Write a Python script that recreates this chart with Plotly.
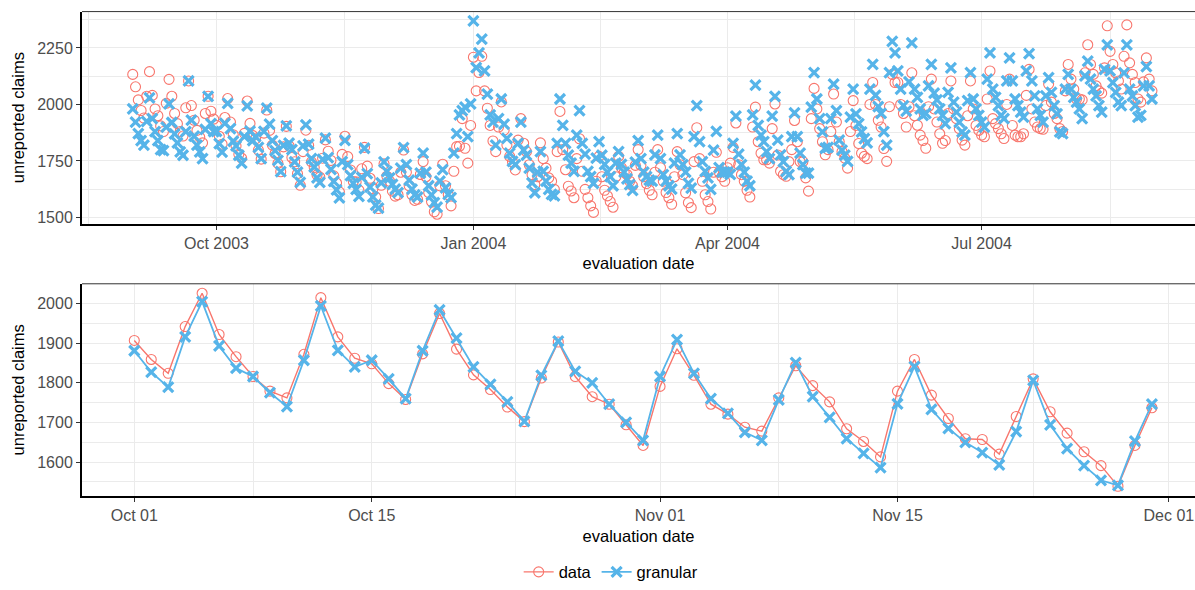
import pandas as pd
import plotly.graph_objects as go

RED = "#F8766D"
BLUE = "#56B4E9"
FONT = "Liberation Sans, Arial, sans-serif"

# ---- daily values, one list per month ----
data_sep_2003 = [2133, 2078, 2020, 1973, 1940, 2036, 2145,
                 2040, 1980, 1950, 1905, 1880, 2005, 2111,
                 2036, 1960, 1915, 1880, 1860, 1985, 2104,
                 1995, 1930, 1885, 1855, 1830, 1960, 2036,
                 1970, 1935]
gran_sep_2003 = [1980, 1922, 1871, 1840, 1820, 1925, 2029,
                 1937, 1880, 1840, 1800, 1795, 1900, 2002,
                 1920, 1870, 1830, 1790, 1775, 1880, 2104,
                 1930, 1860, 1820, 1790, 1760, 1890, 2036,
                 1915, 1880]

data_oct_2003 = [1907, 1859, 1824, 1942, 2026, 1922, 1866, 1816, 1779, 1762,
                 1872, 2015, 1916, 1862, 1848, 1798, 1758, 1873, 1975, 1885,
                 1820, 1783, 1739, 1702, 1812, 1903, 1816, 1765, 1746, 1694, 1642]
gran_oct_2003 = [1881, 1827, 1789, 1916, 2005, 1893, 1837, 1816, 1775, 1740,
                 1857, 1994, 1882, 1840, 1857, 1810, 1760, 1881, 1984, 1913,
                 1840, 1796, 1752, 1703, 1819, 1905, 1829, 1800, 1746, 1700, 1655]

data_nov_2003 = [1791, 1886, 1819, 1746, 1721, 1688, 1678, 1762, 1843, 1793,
                 1752, 1684, 1652, 1613, 1779, 1859, 1769, 1710, 1659, 1657,
                 1620, 1715, 1810, 1727, 1673, 1626, 1591, 1539, 1642, 1737]
gran_nov_2003 = [1816, 1909, 1824, 1760, 1723, 1675, 1655, 1757, 1851, 1765,
                 1713, 1659, 1622, 1586, 1747, 1841, 1733, 1685, 1650, 1624,
                 1593, 1677, 1806, 1694, 1634, 1591, 1554, 1541, 1653, 1746]

data_dec_2003 = [1682, 1660, 1616, 1594, 1600, 1700, 1798,
                 1700, 1640, 1600, 1575, 1580, 1690, 1747,
                 1680, 1610, 1570, 1525, 1514, 1640, 1735,
                 1640, 1600, 1551, 1704, 1813, 1815, 1937,
                 1806, 1740, 1907]
gran_dec_2003 = [1704, 1675, 1646, 1625, 1610, 1718, 1809,
                 1733, 1665, 1625, 1600, 1590, 1696, 1784,
                 1700, 1640, 1600, 1565, 1545, 1660, 1711,
                 1631, 1602, 1587, 1784, 1871, 1954, 1973,
                 1988, 1857, 2002]

data_jan_2004 = [2209, 2060, 2141, 2213,
                 2060, 1983, 1907, 1838, 1791, 1900, 2011,
                 1886, 1820, 1770, 1745, 1710, 1842, 1937,
                 1828, 1791, 1733, 1689, 1645, 1680, 1830,
                 1760, 1718, 1675, 1660, 1624, 1791]
gran_jan_2004 = [2370, 2163, 2228, 2289,
                 2148, 2046, 1954, 1922, 1820, 1937, 2024,
                 1913, 1850, 1784, 1748, 1733, 1828, 1922,
                 1798, 1776, 1718, 1653, 1609, 1700, 1791,
                 1704, 1660, 1624, 1602, 1595, 1828]

data_feb_2004 = [1969,
                 1800, 1711, 1638, 1617, 1587, 1760, 1848,
                 1704, 1624, 1587, 1551, 1522, 1660, 1770,
                 1680, 1620, 1595, 1570, 1545, 1680, 1770,
                 1720, 1700, 1690, 1660, 1640, 1730, 1800]
gran_feb_2004 = [2024,
                 1907, 1828, 1776, 1740, 1704, 1864, 1973,
                 1828, 1780, 1704, 1680, 1650, 1762, 1835,
                 1775, 1735, 1700, 1680, 1640, 1740, 1791,
                 1735, 1700, 1670, 1645, 1620, 1745, 1840]

data_mar_2004 = [1730, 1680, 1650, 1620, 1600, 1700, 1800,
                 1720, 1660, 1610, 1587, 1558, 1680, 1791,
                 1733, 1689, 1609, 1565, 1543, 1747, 1897,
                 1760, 1660, 1600, 1570, 1537, 1700, 1788,
                 1700, 1680, 1660]
gran_mar_2004 = [1760, 1700, 1680, 1665, 1660, 1777, 1864,
                 1760, 1689, 1660, 1640, 1625, 1740, 1871,
                 1777, 1733, 1700, 1650, 1630, 1857, 1995,
                 1835, 1747, 1704, 1675, 1624, 1798, 1881,
                 1720, 1700, 1700]

data_apr_2004 = [1720, 1740, 1810, 1918,
                 1733, 1689, 1660, 1620, 1590, 1900, 1988,
                 1835, 1784, 1755, 1755, 1740, 1893, 2002,
                 1776, 1704, 1689, 1682, 1747, 1800, 1929,
                 1835, 1747, 1747, 1675, 1616]
gran_apr_2004 = [1700, 1690, 1828, 1948,
                 1780, 1733, 1700, 1660, 1640, 1954, 2085,
                 1907, 1864, 1835, 1791, 1760, 1948, 2036,
                 1842, 1777, 1747, 1704, 1689, 1857, 1963,
                 1857, 1784, 1733, 1696, 1696]

data_may_2004 = [1937, 2071,
                 1980, 1893, 1835, 1777, 1800, 1880, 2046,
                 1922, 1835, 1791, 1762, 1718, 1880, 2017,
                 1907, 1827, 1784, 1770, 1760, 2000, 2097,
                 2000, 1930, 1900, 1805, 1748, 1990, 2133,
                 2097]
gran_may_2004 = [1988, 2141,
                 2024, 1937, 1878, 1806, 1810, 1937, 2090,
                 1973, 1842, 1798, 1776, 1748, 1944, 2068,
                 1958, 1915, 1878, 1849, 1830, 2068, 2177,
                 2040, 1990, 1960, 1880, 1820, 2141, 2279,
                 2228]

data_jun_2004 = [2097, 2000, 1960, 1900, 1990, 2140,
                 1950, 1908, 1864, 1840, 1806, 1990, 2112,
                 1980, 1922, 1870, 1828, 1840, 1960, 2104,
                 1980, 1937, 1893, 1842, 1820, 1950, 2104,
                 1980, 1907, 1885]
gran_jun_2004 = [2148, 2068, 1995, 1970, 2100, 2272,
                 2068, 2031, 1980, 1951, 1960, 2082, 2177,
                 2050, 2020, 1980, 1951, 1915, 2053, 2162,
                 2010, 1966, 1922, 1878, 1864, 2017, 2141,
                 2024, 1980, 1951]

data_jul_2004 = [1864, 1857, 2024, 2148,
                 1937, 1915, 1893, 1870, 1849, 2000, 2112,
                 1907, 1864, 1857, 1857, 1870, 2040, 2155,
                 1980, 1922, 1900, 1893, 1890, 1995, 2090,
                 2010, 1960, 1937, 1893, 1880, 2060]
gran_jul_2004 = [1922, 1900, 2112, 2228,
                 2068, 2031, 1995, 1951, 1937, 2104, 2206,
                 2104, 2024, 1995, 1966, 1944, 2148, 2225,
                 2104, 2038, 1980, 1951, 1922, 2038, 2119,
                 2053, 1995, 1958, 1878, 1871, 2068]

data_aug_2004 = [2177,
                 2112, 2068, 2024, 2024, 2020, 2140, 2264,
                 2177, 2133, 2082, 2060, 2050, 2162, 2348,
                 2235, 2177, 2140, 2104, 2068, 2213, 2352,
                 2184, 2133, 2097, 2024, 2010, 2100, 2206,
                 2112, 2060]
gran_aug_2004 = [2133,
                 2068, 2031, 2010, 1980, 1937, 2126, 2192,
                 2112, 2068, 2038, 1995, 1966, 2155, 2264,
                 2148, 2097, 2053, 2010, 1995, 2140, 2264,
                 2068, 2038, 1995, 1944, 1951, 2082, 2167,
                 2082, 2024]

# ---- ticks ----
top_tick_dates = ["2003-10-01", "2004-01-01", "2004-04-01", "2004-07-01"]
top_tick_labels = ["Oct 2003", "Jan 2004", "Apr 2004", "Jul 2004"]
top_minor_dates = ["2003-08-16", "2003-11-16", "2004-02-15 12:00", "2004-05-16 12:00", "2004-08-16"]
bottom_tick_dates = ["2003-10-01", "2003-10-15", "2003-11-01", "2003-11-15", "2003-12-01"]
bottom_tick_labels = ["Oct 01", "Oct 15", "Nov 01", "Nov 15", "Dec 01"]
bottom_minor_dates = ["2003-10-08", "2003-10-23 12:00", "2003-11-08", "2003-11-23"]
top_y_ticks = [1500, 1750, 2000, 2250]
top_y_minor = [1625, 1875, 2125, 2375]
bottom_y_ticks = [1600, 1700, 1800, 1900, 2000]
bottom_y_minor = [1550, 1650, 1750, 1850, 1950]

data_all = (data_sep_2003 + data_oct_2003 + data_nov_2003 + data_dec_2003 +
            data_jan_2004 + data_feb_2004 + data_mar_2004 + data_apr_2004 +
            data_may_2004 + data_jun_2004 + data_jul_2004 + data_aug_2004)
gran_all = (gran_sep_2003 + gran_oct_2003 + gran_nov_2003 + gran_dec_2003 +
            gran_jan_2004 + gran_feb_2004 + gran_mar_2004 + gran_apr_2004 +
            gran_may_2004 + gran_jun_2004 + gran_jul_2004 + gran_aug_2004)
dates_all = pd.date_range("2003-09-01", periods=len(data_all), freq="D")

data_zoom = data_oct_2003 + data_nov_2003
gran_zoom = gran_oct_2003 + gran_nov_2003
dates_zoom = pd.date_range("2003-10-01", periods=len(data_zoom), freq="D")

fig = go.Figure()

circle = dict(symbol="circle-open", size=10, color=RED, line=dict(width=1.1, color=RED))
cross = dict(symbol="x-thin", size=10, color=BLUE, line=dict(width=3.2, color=BLUE))

fig.add_trace(go.Scatter(x=dates_all, y=data_all, mode="markers", marker=circle,
                         name="data", legendgroup="data", showlegend=False,
                         xaxis="x", yaxis="y"))
fig.add_trace(go.Scatter(x=dates_all, y=gran_all, mode="markers", marker=cross,
                         name="granular", legendgroup="granular", showlegend=False,
                         xaxis="x", yaxis="y"))
fig.add_trace(go.Scatter(x=dates_zoom, y=data_zoom, mode="lines+markers", marker=circle,
                         line=dict(color=RED, width=1.4),
                         name="data", legendgroup="data", xaxis="x2", yaxis="y2"))
fig.add_trace(go.Scatter(x=dates_zoom, y=gran_zoom, mode="lines+markers", marker=cross,
                         line=dict(color=BLUE, width=1.8),
                         name="granular", legendgroup="granular", xaxis="x2", yaxis="y2"))

H = 590.0
grid = "#EBEBEB"
tickfont = dict(family=FONT, size=16, color="#4D4D4D")
titlefont = dict(family=FONT, size=16.5, color="#000000")

def xaxis_cfg(rng, tv, tt, minor, anchor):
    return dict(range=rng, domain=[0, 1], anchor=anchor, type="date",
                tickmode="array", tickvals=tv, ticktext=tt,
                showline=True, linecolor="#000000", linewidth=2, mirror=False,
                ticks="outside", ticklen=4, tickcolor="#333333", tickwidth=1,
                showgrid=True, gridcolor=grid, gridwidth=1.2, zeroline=False,
                minor=dict(tickmode="array", tickvals=minor, showgrid=True,
                           gridcolor=grid, gridwidth=0.7, ticks=""),
                tickfont=tickfont,
                title=dict(text="evaluation date", font=titlefont, standoff=7))

def yaxis_cfg(rng, dom, tv, minor, anchor):
    return dict(range=rng, domain=dom, anchor=anchor,
                tickmode="array", tickvals=tv, ticktext=[str(v) for v in tv],
                showline=True, linecolor="#000000", linewidth=2, mirror=False,
                ticks="outside", ticklen=4, tickcolor="#333333", tickwidth=1,
                showgrid=True, gridcolor=grid, gridwidth=1.2, zeroline=False,
                minor=dict(tickmode="array", tickvals=minor, showgrid=True,
                           gridcolor=grid, gridwidth=0.7, ticks=""),
                tickfont=tickfont,
                title=dict(text="unreported claims", font=titlefont, standoff=8))

fig.update_layout(
    width=1195, height=590,
    margin=dict(l=82, r=0, t=0, b=0),
    paper_bgcolor="white", plot_bgcolor="white",
    font=dict(family=FONT, size=16, color="#000000"),
    xaxis=xaxis_cfg(["2003-08-13 20:00", "2004-09-15 10:00"], top_tick_dates, top_tick_labels,
                    top_minor_dates, "y"),
    yaxis=yaxis_cfg([1472, 2411], [(H - 226) / H, (H - 11.7) / H], top_y_ticks, top_y_minor, "x"),
    xaxis2=xaxis_cfg(["2003-09-27 22:00", "2003-12-02 13:00"], bottom_tick_dates, bottom_tick_labels,
                     bottom_minor_dates, "y2"),
    yaxis2=yaxis_cfg([1514.6, 2050], [(H - 501) / H, (H - 286.7) / H], bottom_y_ticks, bottom_y_minor, "x2"),
    legend=dict(orientation="h", x=0.475, xanchor="center", y=(H - 578) / H, yanchor="middle",
                font=dict(family=FONT, size=16.5, color="#000000"), itemwidth=30,
                bgcolor="rgba(0,0,0,0)"),
    shapes=[
        dict(type="line", xref="x domain", yref="y domain", x0=0, x1=1, y0=1, y1=1,
             line=dict(color="#333333", width=1)),
        dict(type="line", xref="x2 domain", yref="y2 domain", x0=0, x1=1, y0=1, y1=1,
             line=dict(color="#333333", width=1)),
    ],
    showlegend=True,
)

fig.write_html("out.html")
